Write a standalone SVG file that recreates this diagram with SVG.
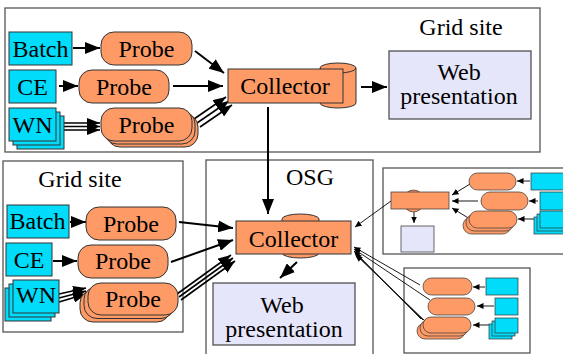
<svg xmlns="http://www.w3.org/2000/svg" width="563" height="354" viewBox="0 0 563 354">
<defs>
<style>
.frame{fill:#fff;stroke:#555;stroke-width:1.3}
.res{fill:#00dcfa;stroke:#333;stroke-width:1}
.prb{fill:#fd9a66;stroke:#333;stroke-width:1}
.col{fill:#fd9a66;stroke:#333;stroke-width:1}
.web{fill:#e6e6fb;stroke:#444;stroke-width:1.2}
.t{font-family:"Liberation Serif","Times New Roman",serif;font-size:24px;fill:#000;text-anchor:middle}
.a{stroke:#000;stroke-width:2;fill:none;marker-end:url(#ah)}
.a2{stroke:#000;stroke-width:1.6;fill:none;marker-end:url(#ah2)}
.s{stroke:#000;stroke-width:0.9;fill:none;marker-end:url(#as)}
.sr{fill:#00dcfa;stroke:#333;stroke-width:0.7}
.sp{fill:#fd9a66;stroke:#333;stroke-width:0.7}
</style>
<marker id="ah" markerUnits="userSpaceOnUse" markerWidth="16" markerHeight="12" refX="15" refY="6" orient="auto"><path d="M0,0 L15,6 L0,12 z" fill="#000"/></marker>
<marker id="ah2" markerUnits="userSpaceOnUse" markerWidth="14" markerHeight="10" refX="13" refY="5" orient="auto"><path d="M0,0 L13,5 L0,10 z" fill="#000"/></marker>
<marker id="as" markerUnits="userSpaceOnUse" markerWidth="7" markerHeight="6" refX="6.5" refY="3" orient="auto"><path d="M0,0 L6.5,3 L0,6 z" fill="#000"/></marker>
</defs>

<g id="frames">
<rect id="top-grid-site" class="frame" x="5" y="8" width="535" height="144"/>
<rect id="bottom-grid-site" class="frame" x="3" y="161" width="180" height="171"/>
<rect id="osg" class="frame" x="206" y="160" width="167" height="200"/>
<rect id="mini-site-1" class="frame" x="383" y="168" width="190" height="86"/>
<rect id="mini-site-2" class="frame" x="404" y="268" width="126" height="85"/>
</g>

<g id="labels">
<text class="t" x="461" y="35">Grid site</text>
<text class="t" x="80" y="187">Grid site</text>
<text class="t" x="310" y="185">OSG</text>
</g>

<g id="connectors">
<line class="a" x1="73" y1="48" x2="100" y2="48"/>
<line class="a" x1="59" y1="86" x2="78" y2="86"/>
<line class="a2" x1="60" y1="123" x2="100" y2="123"/>
<line class="a2" x1="62" y1="126.5" x2="100" y2="126.5"/>
<line class="a2" x1="64" y1="130" x2="100" y2="130"/>
<line class="a" x1="195" y1="51" x2="224" y2="73"/>
<line class="a" x1="173" y1="86" x2="223" y2="86"/>
<line class="a2" x1="194" y1="119" x2="226" y2="97"/>
<line class="a2" x1="197" y1="123" x2="229" y2="101"/>
<line class="a2" x1="200" y1="127" x2="232" y2="105"/>
<line class="a" x1="361" y1="87" x2="387" y2="87"/>
<line class="a" x1="268" y1="107" x2="268" y2="214"/>

<line class="a" x1="70" y1="222" x2="86" y2="222"/>
<line class="a" x1="53" y1="261" x2="77" y2="261"/>
<line class="a2" x1="59" y1="294" x2="86" y2="288"/>
<line class="a2" x1="59" y1="298" x2="86" y2="291"/>
<line class="a2" x1="59" y1="302" x2="86" y2="294"/>
<line class="a" x1="179" y1="222" x2="233" y2="228"/>
<line class="a" x1="171" y1="262" x2="233" y2="240"/>
<line class="a2" x1="177" y1="294" x2="231" y2="255"/>
<line class="a2" x1="179" y1="297" x2="233" y2="258"/>
<line class="a2" x1="181" y1="300" x2="235" y2="261"/>
<line class="a" x1="297" y1="262" x2="280" y2="278"/>

<line class="s" x1="391" y1="201" x2="355" y2="227"/>
<line class="s" x1="420" y1="285" x2="354" y2="247"/>
<line class="s" x1="430" y1="300" x2="354" y2="249"/>
<line class="s" x1="421" y1="319" x2="354" y2="251"/>
<line class="s" x1="423" y1="320" x2="355" y2="253"/>
<line class="s" x1="425" y1="321" x2="356" y2="255"/>

<line class="s" x1="414" y1="212" x2="414" y2="223"/>
<line class="s" x1="470" y1="184" x2="452" y2="195"/>
<line class="s" x1="478" y1="201" x2="452" y2="201"/>
<line class="s" x1="470" y1="219" x2="452" y2="208"/>
<line class="s" x1="530" y1="181" x2="517" y2="181"/>
<line class="s" x1="538" y1="201" x2="529" y2="201"/>
<line class="s" x1="537" y1="219" x2="518" y2="219"/>

<line class="s" x1="485" y1="287" x2="473" y2="287"/>
<line class="s" x1="494" y1="306" x2="477" y2="306"/>
<line class="s" x1="491" y1="325" x2="473" y2="325"/>
</g>

<g id="top-batch"><rect class="res" x="9" y="32" width="63" height="33"/><text class="t" x="40.5" y="57">Batch</text></g>
<g id="top-ce"><rect class="res" x="9" y="70" width="47" height="33"/><text class="t" x="32.5" y="95">CE</text></g>
<g id="top-wn"><rect class="res" x="17" y="116" width="47" height="33"/><rect class="res" x="13" y="112" width="47" height="33"/><rect class="res" x="9" y="108" width="47" height="33"/><text class="t" x="32.5" y="133">WN</text></g>
<g id="top-probe-1"><rect class="prb" x="101" y="32" width="91" height="33" rx="13"/><text class="t" x="146.5" y="57">Probe</text></g>
<g id="top-probe-2"><rect class="prb" x="79" y="70" width="90" height="33" rx="13"/><text class="t" x="124" y="95">Probe</text></g>
<g id="top-probe-3"><rect class="prb" x="107" y="114" width="91" height="33" rx="13"/><rect class="prb" x="104" y="111" width="91" height="33" rx="13"/><rect class="prb" x="101" y="108" width="91" height="33" rx="13"/><text class="t" x="146.5" y="133">Probe</text></g>
<g id="top-collector"><path class="col" d="M320,68 A18,5 0 0 1 356,68 L356,103 A18,5 0 0 1 320,103 Z"/><path d="M320,68 A18,5 0 0 0 356,68" fill="none" stroke="#333"/><rect class="col" x="228" y="69" width="115" height="34"/><text class="t" x="285" y="94">Collector</text></g>
<g id="top-web"><rect class="web" x="389" y="51" width="142" height="68"/><text class="t" x="459" y="80">Web</text><text class="t" x="459" y="104">presentation</text></g>

<g id="bottom-batch"><rect class="res" x="7" y="205" width="62" height="33"/><text class="t" x="37.5" y="229">Batch</text></g>
<g id="bottom-ce"><rect class="res" x="6" y="243" width="46" height="33"/><text class="t" x="29" y="268">CE</text></g>
<g id="bottom-wn"><rect class="res" x="5" y="288" width="46" height="33"/><rect class="res" x="9" y="284" width="46" height="33"/><rect class="res" x="13" y="280" width="46" height="33"/><text class="t" x="36" y="303">WN</text></g>
<g id="bottom-probe-1"><rect class="prb" x="86" y="207" width="90" height="33" rx="13"/><text class="t" x="131" y="232">Probe</text></g>
<g id="bottom-probe-2"><rect class="prb" x="78" y="245" width="90" height="33" rx="13"/><text class="t" x="123" y="269">Probe</text></g>
<g id="bottom-probe-3"><rect class="prb" x="80" y="290" width="90" height="32" rx="13"/><rect class="prb" x="84" y="286.5" width="90" height="32" rx="13"/><rect class="prb" x="88" y="283" width="90" height="32" rx="13"/><text class="t" x="133" y="307">Probe</text></g>

<g id="osg-collector"><path class="col" d="M282,219 A18.5,5 0 0 1 319,219 L319,253 A18.5,5 0 0 1 282,253 Z"/><rect class="col" x="236" y="221" width="115" height="33"/><text class="t" x="293.5" y="247">Collector</text></g>
<g id="osg-web"><rect class="web" x="213" y="283" width="142" height="62"/><text class="t" x="282" y="313">Web</text><text class="t" x="284" y="337">presentation</text></g>

<g id="mini1-collector"><ellipse class="sp" cx="413.5" cy="201" rx="10.5" ry="11"/><rect class="sp" x="391" y="192" width="58" height="17"/></g>
<g id="mini1-web"><rect class="web" style="stroke-width:0.8" x="401" y="226" width="33" height="26"/></g>
<g id="mini1-probe-1"><rect class="sp" x="469" y="173" width="47" height="17" rx="8.5"/></g>
<g id="mini1-probe-2"><rect class="sp" x="481" y="192" width="47" height="18" rx="9"/></g>
<g id="mini1-probe-3"><rect class="sp" x="463" y="217" width="48" height="17" rx="8.5"/><rect class="sp" x="466" y="214" width="48" height="17" rx="8.5"/><rect class="sp" x="469" y="211" width="48" height="17" rx="8.5"/></g>
<g id="mini1-res-1"><rect class="sr" x="531" y="173" width="40" height="17"/></g>
<g id="mini1-res-2"><rect class="sr" x="540" y="192" width="30" height="18"/></g>
<g id="mini1-res-3"><rect class="sr" x="534" y="217" width="36" height="17"/><rect class="sr" x="537" y="214" width="36" height="17"/><rect class="sr" x="540" y="211" width="36" height="17"/></g>

<g id="mini2-probe-1"><rect class="sp" x="423" y="278" width="49" height="17" rx="8.5"/></g>
<g id="mini2-probe-2"><rect class="sp" x="428" y="298" width="47" height="17" rx="8.5"/></g>
<g id="mini2-probe-3"><rect class="sp" x="417" y="323" width="48" height="16" rx="8"/><rect class="sp" x="420" y="320" width="48" height="16" rx="8"/><rect class="sp" x="423" y="317" width="48" height="16" rx="8"/></g>
<g id="mini2-res-1"><rect class="sr" x="486" y="278" width="32" height="17"/></g>
<g id="mini2-res-2"><rect class="sr" x="495" y="298" width="23" height="17"/></g>
<g id="mini2-res-3"><rect class="sr" x="489" y="324" width="23" height="15"/><rect class="sr" x="492" y="321" width="23" height="15"/><rect class="sr" x="495" y="318" width="23" height="15"/></g>
</svg>
